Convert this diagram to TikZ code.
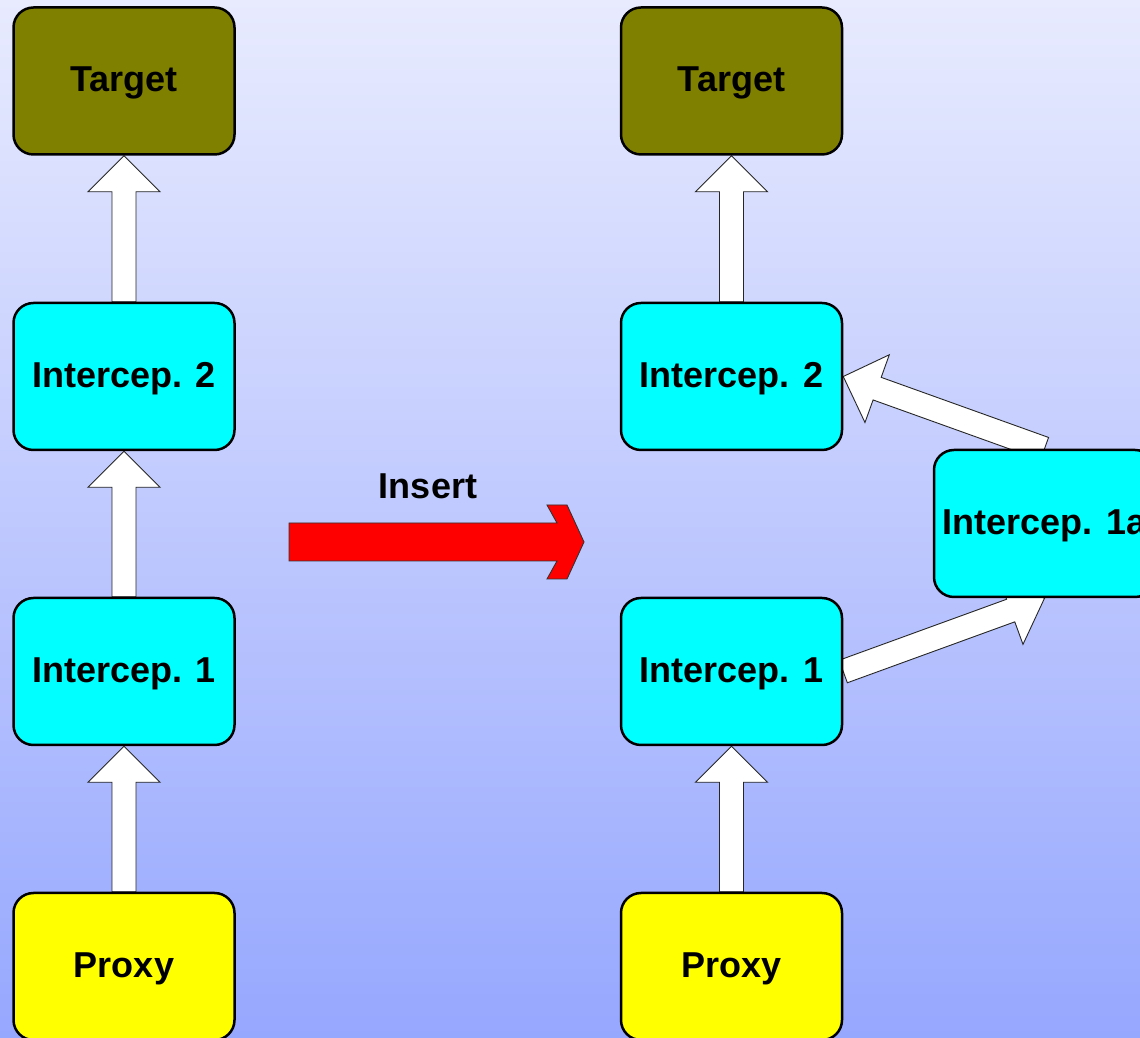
\documentclass[tikz,border=0pt]{standalone}
\usepackage{fontspec}
\setmainfont{Liberation Sans}
\usetikzlibrary{calc}
\pgfdeclarelayer{back}
\pgfdeclarelayer{mid}
\pgfsetlayers{back,mid,main}
\definecolor{bgtop}{RGB}{232,235,254}
\definecolor{bgbot}{RGB}{150,167,254}
\definecolor{tgtcol}{RGB}{128,128,0}
\definecolor{intcol}{RGB}{0,255,255}
\definecolor{prxcol}{RGB}{255,255,0}
\definecolor{inscol}{RGB}{255,0,0}
\tikzset{
  box/.style={draw=black, line width=2.5pt, rounded corners=20pt,
    minimum width=221pt, minimum height=147pt, inner sep=0pt,
    text height=26pt, text depth=4pt,
    font=\fontsize{36}{40}\selectfont\bfseries},
  blk/.style={draw=black!85, line width=0.9pt, fill=white, line join=miter},
  insarrow/.style={draw=black!80, line width=0.9pt, fill=inscol, line join=miter},
  lbl/.style={font=\fontsize{36}{40}\selectfont\bfseries, text height=26pt, text depth=4pt}
}
\newcommand\blockarr[3]{%
  \coordinate (#1h) at ($(#3)!36pt!(#2)$);
  \draw[blk] ($(#2)!12pt!90:(#3)$) -- ($(#1h)!12pt!-90:(#2)$)
    -- ($(#1h)!36pt!-90:(#2)$) -- (#3) -- ($(#1h)!36pt!90:(#2)$)
    -- ($(#1h)!12pt!90:(#2)$) -- ($(#2)!12pt!-90:(#3)$) -- cycle;}
\begin{document}
\begin{tikzpicture}[x=1pt,y=1pt]
\useasboundingbox (0,0) rectangle (1140,1038);
\begin{pgfonlayer}{back}
  \shade[top color=bgtop, bottom color=bgbot] (0,0) rectangle (1140,1038);
\end{pgfonlayer}
% left column
\node[box, fill=tgtcol] (lt) at (124,957) {Target};
\node[box, fill=intcol] (li2) at (124,661.5) {Intercep. 2};
\node[box, fill=intcol] (li1) at (124,366.5) {Intercep. 1};
\node[box, fill=prxcol] (lp) at (124,71.5) {Proxy};
% right column
\node[box, fill=tgtcol] (rt) at (731.5,957) {Target};
\node[box, fill=intcol] (ri2) at (731.5,661.5) {Intercep. 2};
\node[box, fill=intcol] (ri1) at (731.5,366.5) {Intercep. 1};
\node[box, fill=prxcol] (rp) at (731.5,71.5) {Proxy};
\node[box, fill=intcol] (ri1a) at (1044.5,514.5) {Intercep. 1a};
% insert label and arrow
\node[lbl] (ins) at (428,550) {Insert};
\draw[insarrow] (289,515) -- (557,515) -- (547,533) -- (567,533) -- (584,496)
  -- (567,459) -- (547,459) -- (557,477) -- (289,477) -- cycle;
% connectors
\begin{pgfonlayer}{mid}
  \blockarr{a1}{lp.north}{li1.south}
  \blockarr{a2}{li1.north}{li2.south}
  \blockarr{a3}{li2.north}{lt.south}
  \blockarr{a4}{rp.north}{ri1.south}
  \blockarr{a5}{ri2.north}{rt.south}
  \blockarr{a6}{ri1.east}{ri1a.south}
  \blockarr{a7}{ri1a.north}{ri2.east}
\end{pgfonlayer}
\end{tikzpicture}
\end{document}
